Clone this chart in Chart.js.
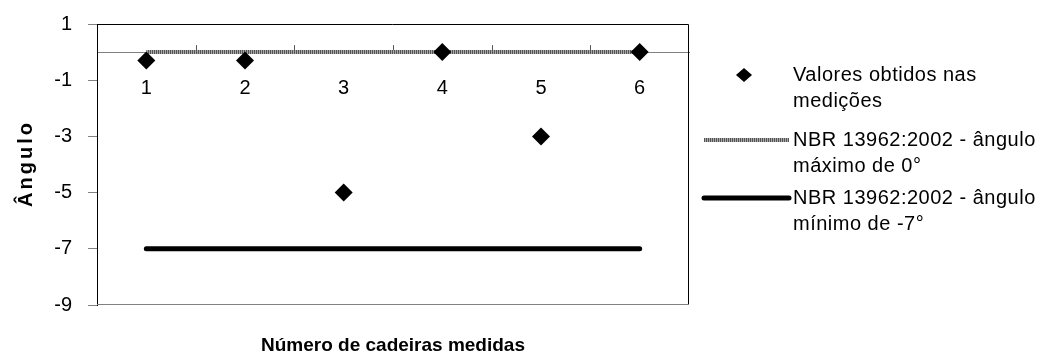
<!DOCTYPE html>
<html>
<head>
<meta charset="utf-8">
<script src="https://cdn.jsdelivr.net/npm/chart.js@4/dist/chart.umd.min.js"></script>
<style>
  body { margin: 0; background: #fff; }
  #wrap { width: 1046px; height: 363px; position: relative; }
</style>
</head>
<body>
<div id="wrap"><canvas id="anguloChart"></canvas></div>
<script>
// dados
const cadeiras = ['1', '2', '3', '4', '5', '6'];
const valoresObtidos = [-0.3, -0.3, -5, 0, -3, 0];
const anguloMaximo = [0, 0, 0, 0, 0, 0];
const anguloMinimo = [-7, -7, -7, -7, -7, -7];
const yTicks = [-9, -7, -5, -3, -1, 1];
const legendLines = [
    ['Valores obtidos nas', 'medições'],
    ['NBR 13962:2002 - ângulo', 'máximo de 0°'],
    ['NBR 13962:2002 - ângulo', 'mínimo de -7°']
];

const FONT = '"Liberation Sans", Arial, sans-serif';

// listrado cinza da linha do ângulo máximo
function stripePattern(ctx) {
    const c = document.createElement('canvas');
    c.width = 2; c.height = 1;
    const g = c.getContext('2d');
    g.fillStyle = '#555555'; g.fillRect(0, 0, 1, 1);
    g.fillStyle = '#a8a8a8'; g.fillRect(1, 0, 1, 1);
    return ctx.createPattern(c, 'repeat');
}

const framePlugin = {
    id: 'frame',
    beforeDatasetsDraw(chart) {
        const { ctx, chartArea: a, scales } = chart;
        ctx.save();
        // borda superior e direita
        ctx.strokeStyle = '#000';
        ctx.lineWidth = 1;
        ctx.beginPath();
        ctx.moveTo(a.left, a.top + 0.5);
        ctx.lineTo(a.right - 0.5, a.top + 0.5);
        ctx.lineTo(a.right - 0.5, a.bottom);
        ctx.stroke();
        // base cinza
        ctx.strokeStyle = '#808080';
        ctx.beginPath();
        ctx.moveTo(a.left, a.bottom - 0.5);
        ctx.lineTo(a.right, a.bottom - 0.5);
        ctx.stroke();
        // marcas entre categorias no eixo zero
        const y0 = scales.y.getPixelForValue(0);
        ctx.strokeStyle = '#555';
        for (let i = 0; i < cadeiras.length - 1; i++) {
            const x = Math.round((scales.x.getPixelForValue(i) + scales.x.getPixelForValue(i + 1)) / 2) + 0.5;
            ctx.beginPath();
            ctx.moveTo(x, y0);
            ctx.lineTo(x, y0 - 7);
            ctx.stroke();
        }
        ctx.restore();
    },
    afterDraw(chart) {
        const { ctx, chartArea: a } = chart;
        ctx.save();
        ctx.fillStyle = '#000';
        // títulos
        ctx.font = 'bold 19px ' + FONT;
        ctx.textAlign = 'center';
        ctx.textBaseline = 'middle';
        ctx.fillText('Número de cadeiras medidas', (a.left + a.right) / 2, 346);
        ctx.save();
        ctx.translate(26, 165);
        ctx.rotate(-Math.PI / 2);
        ctx.font = 'bold 20px ' + FONT;
        ctx.letterSpacing = '3px';
        ctx.fillText('Ângulo', 1.5, 0);
        ctx.restore();

        // legenda
        const textX = 793;
        const rows = [75, 140, 198];
        ctx.font = '20px ' + FONT;
        ctx.letterSpacing = '0.5px';
        ctx.textAlign = 'left';
        chart.data.datasets.forEach((ds, i) => {
            const y = rows[i];
            if (ds.showLine === false) {
                ctx.fillStyle = ds.pointBackgroundColor;
                ctx.beginPath();
                ctx.moveTo(744 - 8, y);
                ctx.lineTo(744, y - 7);
                ctx.lineTo(744 + 8, y);
                ctx.lineTo(744, y + 7);
                ctx.closePath();
                ctx.fill();
            } else {
                ctx.strokeStyle = ds.borderColor;
                ctx.lineWidth = ds.borderWidth;
                ctx.lineCap = ds.borderCapStyle;
                ctx.beginPath();
                ctx.moveTo(704, y);
                ctx.lineTo(789, y);
                ctx.stroke();
            }
            ctx.fillStyle = '#000';
            legendLines[i].forEach((t, k) => ctx.fillText(t, textX, y + k * 26));
        });
        ctx.restore();
    }
};

const ctx = document.getElementById('anguloChart').getContext('2d');
new Chart(ctx, {
    type: 'line',
    data: {
        labels: cadeiras,
        datasets: [
            {
                label: legendLines[0].join(' '),
                data: valoresObtidos,
                showLine: false,
                pointStyle: 'rectRot',
                pointRadius: 9,
                pointBackgroundColor: '#000',
                pointBorderColor: '#000',
                pointBorderWidth: 0,
            },
            {
                label: legendLines[1].join(' '),
                data: anguloMaximo,
                borderColor: stripePattern(ctx),
                borderWidth: 4,
                borderCapStyle: 'butt',
                pointRadius: 0,
            },
            {
                label: legendLines[2].join(' '),
                data: anguloMinimo,
                borderColor: '#000',
                borderWidth: 5,
                borderCapStyle: 'round',
                pointRadius: 0,
            },
        ],
    },
    options: {
        responsive: true,
        maintainAspectRatio: false,
        animation: false,
        events: [],
        layout: { padding: { left: 0, top: 24, right: 357, bottom: 58 } },
        plugins: {
            legend: { display: false },
            tooltip: { enabled: false },
        },
        scales: {
            x: {
                type: 'category',
                position: { y: 0 },
                offset: true,
                afterFit: (scale) => { scale.paddingTop = 0; scale.paddingBottom = 0; },
                grid: { display: false, drawTicks: false },
                border: { display: true, color: '#808080', width: 1 },
                ticks: {
                    color: '#000',
                    font: { family: FONT, size: 20 },
                    padding: 24,
                    maxRotation: 0,
                },
            },
            y: {
                min: -9,
                max: 1,
                afterFit: (scale) => { scale.width = 97; scale.paddingTop = 0; scale.paddingBottom = 0; },
                afterBuildTicks: (scale) => { scale.ticks = yTicks.map(v => ({ value: v })); },
                grid: { drawOnChartArea: false, drawTicks: true, tickLength: 9, color: '#808080' },
                border: { display: true, color: '#000', width: 1 },
                ticks: {
                    color: '#000',
                    font: { family: FONT, size: 20 },
                    padding: 16,
                },
            },
        },
    },
    plugins: [framePlugin],
});
</script>
</body>
</html>
